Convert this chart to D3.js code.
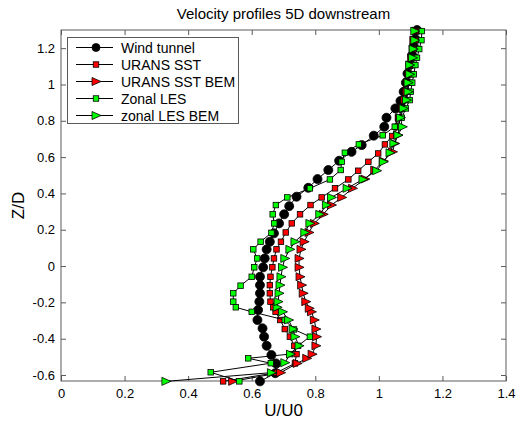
<!DOCTYPE html>
<html><head><meta charset="utf-8">
<script src="https://cdn.jsdelivr.net/npm/d3@7"></script>
<style>body{margin:0;background:#fff}svg{display:block}text{font-family:Arial,"Liberation Sans",sans-serif}</style>
</head><body><svg id="c" width="516" height="421"></svg>
<script>
const seriesNames = ["Wind tunnel","URANS SST","URANS SST BEM","Zonal LES","zonal LES BEM"];
const xTicks = [0,0.2,0.4,0.6,0.8,1,1.2,1.4];
const yTicks = [-0.6,-0.4,-0.2,0,0.2,0.4,0.6,0.8,1,1.2];

const windZ = [-0.635,-0.59,-0.536,-0.49,-0.439,-0.389,-0.343,-0.297,-0.242,-0.196,-0.15,-0.105,-0.059,-0.007,0.042,0.092,0.134,0.18,0.235,0.285,0.33,0.382,0.431,0.479,0.529,0.58,0.629,0.666,0.718,0.767,0.817,0.868,0.909,0.96,1.01,1.06,1.11,1.16,1.21,1.25,1.30];
const windU = [0.626,0.674,0.676,0.662,0.647,0.639,0.634,0.618,0.62,0.624,0.626,0.626,0.626,0.636,0.641,0.647,0.657,0.67,0.686,0.702,0.718,0.741,0.778,0.807,0.841,0.875,0.914,0.946,0.984,1.017,1.024,1.052,1.068,1.078,1.085,1.09,1.10,1.105,1.11,1.115,1.12];

const sstZ = [-0.635,-0.587,-0.536,-0.485,-0.439,-0.389,-0.347,-0.297,-0.252,-0.227,-0.196,-0.15,-0.105,-0.059,-0.007,0.042,0.092,0.134,0.185,0.235,0.285,0.336,0.378,0.428,0.477,0.525,0.574,0.62,0.67,0.716,0.767,0.817,0.868,0.914,0.96,1.01,1.056,1.107,1.147,1.195,1.244,1.294];
const sstU = [0.51,0.678,0.736,0.741,0.734,0.72,0.704,0.69,0.675,0.668,0.659,0.657,0.657,0.659,0.665,0.67,0.678,0.692,0.707,0.726,0.752,0.785,0.82,0.862,0.904,0.935,0.967,0.998,1.019,1.042,1.052,1.06,1.075,1.085,1.09,1.095,1.1,1.103,1.105,1.11,1.115,1.12];

const sstBemZ = [-0.635,-0.587,-0.536,-0.508,-0.485,-0.439,-0.389,-0.347,-0.297,-0.252,-0.233,-0.196,-0.15,-0.105,-0.059,-0.007,0.042,0.092,0.134,0.185,0.235,0.285,0.336,0.378,0.428,0.479,0.529,0.578,0.629,0.675,0.721,0.767,0.817,0.868,0.914,0.96,1.01,1.056,1.107,1.147,1.195,1.244,1.294];
const sstBemU = [0.54,0.691,0.743,0.773,0.79,0.802,0.804,0.802,0.797,0.788,0.781,0.77,0.762,0.757,0.752,0.749,0.749,0.755,0.765,0.78,0.797,0.825,0.851,0.883,0.917,0.956,0.987,1.014,1.043,1.05,1.06,1.065,1.065,1.075,1.082,1.088,1.09,1.095,1.098,1.103,1.108,1.11,1.118];

const lesZ = [-0.635,-0.585,-0.535,-0.508,-0.485,-0.439,-0.389,-0.349,-0.297,-0.252,-0.227,-0.196,-0.15,-0.108,-0.059,-0.007,0.042,0.092,0.134,0.183,0.235,0.285,0.336,0.378,0.428,0.477,0.529,0.574,0.624,0.67,0.72,0.767,0.817,0.868,0.914,0.96,1.01,1.056,1.107,1.147,1.195,1.244,1.294];
const lesU = [0.561,0.471,0.66,0.589,0.72,0.746,0.783,0.733,0.704,0.6,0.55,0.542,0.542,0.565,0.6,0.608,0.617,0.605,0.628,0.662,0.671,0.666,0.676,0.712,0.783,0.846,0.88,0.883,0.893,0.937,1.012,1.05,1.072,1.085,1.097,1.1,1.105,1.11,1.115,1.12,1.127,1.134,1.135];

const lesBemZ = [-0.635,-0.587,-0.532,-0.485,-0.439,-0.389,-0.347,-0.297,-0.252,-0.227,-0.196,-0.15,-0.105,-0.059,-0.007,0.042,0.092,0.134,0.185,0.235,0.285,0.336,0.378,0.428,0.477,0.525,0.574,0.624,0.675,0.721,0.767,0.817,0.868,0.914,0.96,1.01,1.056,1.107,1.147,1.195,1.244,1.294];
const lesBemU = [0.33,0.662,0.704,0.722,0.749,0.736,0.73,0.716,0.697,0.68,0.683,0.686,0.689,0.692,0.697,0.704,0.72,0.736,0.767,0.783,0.814,0.835,0.851,0.90,0.95,0.993,1.014,1.035,1.047,1.06,1.074,1.068,1.077,1.087,1.092,1.092,1.097,1.097,1.106,1.108,1.113,1.113];

const series = [
  {name: seriesNames[0], z: windZ, u: windU, marker: "circle", fill: "#000000"},
  {name: seriesNames[1], z: sstZ, u: sstU, marker: "square", fill: "#ff0000"},
  {name: seriesNames[2], z: sstBemZ, u: sstBemU, marker: "tri", fill: "#ff0000"},
  {name: seriesNames[3], z: lesZ, u: lesU, marker: "square", fill: "#00ff00"},
  {name: seriesNames[4], z: lesBemZ, u: lesBemU, marker: "tri", fill: "#00ff00"}
];

const L = 61, R = 506, T = 30, B = 381;
const x = d3.scaleLinear().domain([0, 1.4]).range([L, R]);
const y = d3.scaleLinear().domain([-0.633, 1.3]).range([B, T]);
const svg = d3.select("#c");
const fmt = d => String(+d.toFixed(1));
const frameColor = "#5a5a5a";

// axes
const gx = svg.append("g").attr("transform", `translate(0,${B})`)
  .call(d3.axisBottom(x).tickValues(xTicks).tickFormat(fmt).tickSizeInner(-5).tickSizeOuter(0).tickPadding(8));
const gxt = svg.append("g").attr("transform", `translate(0,${T})`)
  .call(d3.axisTop(x).tickValues(xTicks).tickFormat("").tickSizeInner(-5).tickSizeOuter(0));
const gy = svg.append("g").attr("transform", `translate(${L},0)`)
  .call(d3.axisLeft(y).tickValues(yTicks).tickFormat(fmt).tickSizeInner(-5).tickSizeOuter(0).tickPadding(6));
const gyr = svg.append("g").attr("transform", `translate(${R},0)`)
  .call(d3.axisRight(y).tickValues(yTicks).tickFormat("").tickSizeInner(-5).tickSizeOuter(0));
[gx,gxt,gy,gyr].forEach(g => {
  g.select(".domain").remove();
  g.selectAll(".tick line").attr("stroke", frameColor);
  g.selectAll("text").attr("fill", "#000").style("font-size", "13px").style("font-family", "Arial, 'Liberation Sans', sans-serif");
});
svg.append("rect").attr("x", L).attr("y", T).attr("width", R - L).attr("height", B - T)
  .attr("fill", "none").attr("stroke", frameColor).attr("stroke-width", 1);

function drawMarker(g, m, fill, cx, cy, legend) {
  if (m === "circle") {
    g.append("circle").attr("cx", cx).attr("cy", cy).attr("r", legend ? 4 : 4.5)
      .attr("fill", fill).attr("stroke", "#000").attr("stroke-width", 0.8);
  } else if (m === "square") {
    const s = 5.5;
    g.append("rect").attr("x", cx - s/2).attr("y", cy - s/2).attr("width", s).attr("height", s)
      .attr("fill", fill).attr("stroke", "#000").attr("stroke-width", 0.8);
  } else {
    const h = 4;
    g.append("path").attr("d", `M${cx-h},${cy-h}L${cx+h+1},${cy}L${cx-h},${cy+h}Z`)
      .attr("fill", fill).attr("stroke", "#000").attr("stroke-width", 0.8);
  }
}

const line = d3.line().x(d => x(d[0])).y(d => y(d[1]));
series.forEach(s => {
  const pts = s.u.map((u, i) => [u, s.z[i]]);
  const g = svg.append("g");
  g.append("path").attr("d", line(pts)).attr("fill", "none").attr("stroke", "#000").attr("stroke-width", 1);
  pts.forEach(p => drawMarker(g, s.marker, s.fill, x(p[0]), y(p[1]), false));
});

// legend
const lg = svg.append("g");
lg.append("rect").attr("x", 67.5).attr("y", 37.5).attr("width", 171).attr("height", 86)
  .attr("fill", "#fff").attr("stroke", frameColor).attr("stroke-width", 1);
series.forEach((s, i) => {
  const yy = 47.5 + i * 17;
  lg.append("line").attr("x1", 76).attr("x2", 113).attr("y1", yy).attr("y2", yy).attr("stroke", "#000").attr("stroke-width", 1);
  drawMarker(lg, s.marker, s.fill, 96, yy, true);
  lg.append("text").attr("x", 121).attr("y", yy + 5).text(s.name).style("font-size", "14px").attr("fill", "#000");
});

// titles
svg.append("text").attr("x", (L + R) / 2).attr("y", 19).attr("text-anchor", "middle")
  .style("font-size", "15px").text("Velocity profiles 5D downstream");
svg.append("text").attr("x", (L + R) / 2).attr("y", 416).attr("text-anchor", "middle")
  .style("font-size", "17px").text("U/U0");
svg.append("text").attr("transform", `translate(24,${(T + B) / 2}) rotate(-90)`).attr("text-anchor", "middle")
  .style("font-size", "17px").text("Z/D");
</script></body></html>
